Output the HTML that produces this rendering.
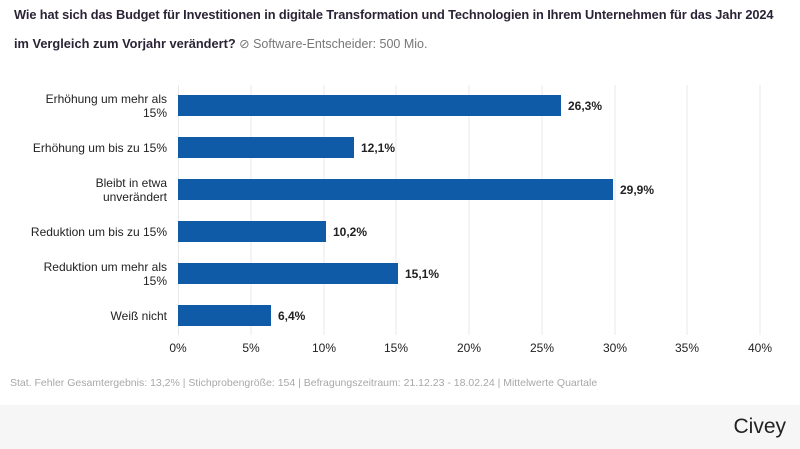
<!DOCTYPE html>
<html><head><meta charset="utf-8"><style>
body{margin:0;width:800px;height:449px;background:#fff;font-family:"Liberation Sans",sans-serif;overflow:hidden;position:relative}
.t{position:absolute;left:14px;font-size:12.8px;font-weight:bold;color:#2b2436;white-space:nowrap}
.s{font-weight:normal;color:#777;font-size:12.5px}
.foot{position:absolute;top:405px;left:0;width:800px;height:44px;background:#f6f6f6}
</style></head><body>
<div class="t" style="top:7px;letter-spacing:-0.1px">Wie hat sich das Budget für Investitionen in digitale Transformation und Technologien in Ihrem Unternehmen für das Jahr 2024</div>
<div class="t" style="top:36px">im Vergleich zum Vorjahr verändert?<span class="s"> ⊘ Software-Entscheider: 500 Mio.</span></div>
<svg width="800" height="449" style="position:absolute;left:0;top:0" font-family="Liberation Sans, sans-serif">
<g stroke="#e8e8e8" stroke-width="1">
<line x1="178.5" y1="85" x2="178.5" y2="335"/><line x1="251" y1="85" x2="251" y2="335"/><line x1="324" y1="85" x2="324" y2="335"/><line x1="396" y1="85" x2="396" y2="335"/><line x1="469" y1="85" x2="469" y2="335"/><line x1="542" y1="85" x2="542" y2="335"/><line x1="615" y1="85" x2="615" y2="335"/><line x1="687" y1="85" x2="687" y2="335"/><line x1="760" y1="85" x2="760" y2="335"/>
</g>
<g fill="#0f5ba7">
<rect x="178" y="95" width="383" height="21"/>
<rect x="178" y="137" width="176" height="21"/>
<rect x="178" y="179" width="435" height="21"/>
<rect x="178" y="221" width="148" height="21"/>
<rect x="178" y="263" width="220" height="21"/>
<rect x="178" y="305" width="93" height="21"/>
</g>
<g font-size="12" font-weight="bold" fill="#222">
<text x="568" y="110">26,3%</text><text x="361" y="152">12,1%</text><text x="620" y="194">29,9%</text><text x="333" y="236">10,2%</text><text x="405" y="278">15,1%</text><text x="278" y="320">6,4%</text>
</g>
<g font-size="12" fill="#222" text-anchor="end">
<text x="167" y="103">Erhöhung um mehr als</text><text x="167" y="117">15%</text>
<text x="167" y="152">Erhöhung um bis zu 15%</text>
<text x="167" y="187">Bleibt in etwa</text><text x="167" y="201">unverändert</text>
<text x="167" y="236">Reduktion um bis zu 15%</text>
<text x="167" y="271">Reduktion um mehr als</text><text x="167" y="285">15%</text>
<text x="167" y="320">Weiß nicht</text>
</g>
<g font-size="12" fill="#222" text-anchor="middle">
<text x="178" y="352">0%</text><text x="251" y="352">5%</text><text x="324" y="352">10%</text><text x="396" y="352">15%</text><text x="469" y="352">20%</text><text x="542" y="352">25%</text><text x="615" y="352">30%</text><text x="687" y="352">35%</text><text x="760" y="352">40%</text>
</g>
<text x="10" y="386" font-size="10.5" fill="#a8a8a8">Stat. Fehler Gesamtergebnis: 13,2% | Stichprobengröße: 154 | Befragungszeitraum: 21.12.23 - 18.02.24 | Mittelwerte Quartale</text>
</svg>
<div class="foot"><span style="position:absolute;right:14px;top:10px;font-size:21px;color:#222">Civey</span></div>
</body></html>
